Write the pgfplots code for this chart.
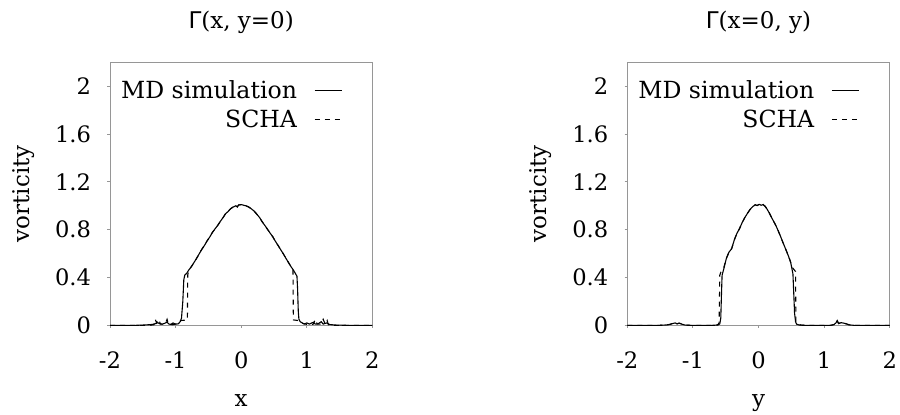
\documentclass[border=0pt]{standalone}
\usepackage{fontspec}
\setmainfont{DejaVu Serif}
\newfontfamily\gsans{DejaVu Sans}
\usepackage{pgfplots}
\pgfplotsset{compat=1.18}
\definecolor{boxgray}{RGB}{150,150,150}

\pgfplotstableread{
x v
-2.00 0
-1.60 0
-1.50 0.002
-1.40 0.005
-1.35 0.008
-1.30 0.015
-1.27 0.022
-1.24 0.012
-1.20 0.010
-1.17 0.016
-1.13 0.026
-1.10 0.010
-1.07 0.008
-1.04 0.020
-1.00 0.010
-0.96 0.012
-0.93 0.030
-0.91 0.060
-0.89 0.200
-0.875 0.380
-0.86 0.420
-0.83 0.435
-0.80 0.462
-0.76 0.490
-0.72 0.525
-0.68 0.560
-0.64 0.598
-0.60 0.636
-0.56 0.668
-0.52 0.706
-0.48 0.738
-0.44 0.776
-0.40 0.806
-0.36 0.834
-0.32 0.868
-0.28 0.898
-0.24 0.932
-0.20 0.952
-0.16 0.976
-0.12 0.990
-0.08 1.000
-0.06 0.990
-0.04 1.006
0.00 1.010
0.04 1.004
0.08 0.998
0.12 0.988
0.16 0.972
0.20 0.954
0.24 0.928
0.28 0.902
0.32 0.866
0.36 0.836
0.40 0.804
0.44 0.772
0.48 0.742
0.52 0.704
0.56 0.670
0.60 0.634
0.64 0.600
0.68 0.562
0.72 0.526
0.76 0.490
0.80 0.458
0.83 0.430
0.85 0.410
0.86 0.300
0.87 0.120
0.88 0.050
0.90 0.030
0.93 0.020
0.96 0.010
1.00 0.020
1.04 0.010
1.10 0.026
1.13 0.010
1.17 0.012
1.22 0.030
1.25 0.010
1.30 0.020
1.35 0.006
1.45 0.002
1.60 0
2.00 0
}\mdx

\pgfplotstableread{
x v
-2.00 0
-1.40 0
-1.33 0.005
-1.31 0.050
-1.29 0.020
-1.26 0.050
-1.23 0.010
-1.16 0.010
-1.13 0.050
-1.11 0.010
-1.05 0.005
-1.00 0.010
-0.96 0.020
-0.92 0.040
-0.82 0.045
-0.815 0.420
-0.80 0.462
-0.76 0.490
-0.72 0.525
-0.68 0.560
-0.64 0.598
-0.60 0.636
-0.56 0.668
-0.52 0.706
-0.48 0.738
-0.44 0.776
-0.40 0.806
-0.36 0.834
-0.32 0.868
-0.28 0.898
-0.24 0.932
-0.20 0.952
-0.16 0.976
-0.12 0.990
-0.08 1.000
-0.06 0.990
-0.04 1.006
0.00 1.010
0.04 1.004
0.08 0.998
0.12 0.988
0.16 0.972
0.20 0.954
0.24 0.928
0.28 0.902
0.32 0.866
0.36 0.836
0.40 0.804
0.44 0.772
0.48 0.742
0.52 0.704
0.56 0.670
0.60 0.634
0.64 0.600
0.68 0.562
0.72 0.526
0.76 0.490
0.79 0.462
0.795 0.045
0.87 0.040
0.92 0.020
0.98 0.010
1.04 0.005
1.10 0.010
1.13 0.050
1.16 0.010
1.22 0.010
1.25 0.050
1.28 0.010
1.31 0.040
1.33 0.005
1.40 0
2.00 0
}\schax

\pgfplotstableread{
x v
-2.00 0
-1.50 0
-1.40 0.003
-1.35 0.008
-1.30 0.016
-1.27 0.020
-1.24 0.012
-1.21 0.018
-1.17 0.010
-1.12 0.002
-1.05 0
-0.70 0
-0.62 0.002
-0.59 0.012
-0.575 0.060
-0.565 0.250
-0.555 0.420
-0.53 0.470
-0.49 0.560
-0.45 0.612
-0.41 0.640
-0.37 0.712
-0.33 0.768
-0.29 0.808
-0.25 0.858
-0.21 0.900
-0.17 0.935
-0.13 0.968
-0.09 0.992
-0.05 1.008
-0.02 1.002
0.01 1.012
0.04 1.004
0.07 1.010
0.10 0.996
0.13 0.972
0.16 0.944
0.19 0.912
0.22 0.880
0.25 0.850
0.28 0.816
0.31 0.778
0.34 0.738
0.37 0.696
0.40 0.656
0.43 0.616
0.46 0.574
0.49 0.528
0.51 0.472
0.525 0.430
0.535 0.300
0.55 0.100
0.565 0.030
0.58 0.010
0.62 0.002
0.70 0
1.10 0
1.15 0.006
1.18 0.020
1.20 0.040
1.22 0.015
1.26 0.022
1.30 0.018
1.34 0.012
1.38 0.004
1.45 0
2.00 0
}\mdy

\pgfplotstableread{
x v
-2.00 0
-1.50 0
-1.40 0.003
-1.35 0.008
-1.30 0.016
-1.27 0.020
-1.24 0.012
-1.21 0.018
-1.17 0.010
-1.12 0.002
-1.05 0
-0.70 0
-0.62 0.005
-0.60 0.020
-0.59 0.420
-0.57 0.450
-0.53 0.480
-0.49 0.560
-0.45 0.612
-0.41 0.640
-0.37 0.712
-0.33 0.768
-0.29 0.808
-0.25 0.858
-0.21 0.900
-0.17 0.935
-0.13 0.968
-0.09 0.992
-0.05 1.008
-0.02 1.002
0.01 1.012
0.04 1.004
0.07 1.010
0.10 0.996
0.13 0.972
0.16 0.944
0.19 0.912
0.22 0.880
0.25 0.850
0.28 0.816
0.31 0.778
0.34 0.738
0.37 0.696
0.40 0.656
0.43 0.616
0.46 0.574
0.49 0.528
0.52 0.480
0.55 0.460
0.565 0.450
0.57 0.030
0.60 0.010
0.65 0.002
0.70 0
1.10 0
1.15 0.006
1.18 0.020
1.20 0.040
1.22 0.015
1.26 0.022
1.30 0.018
1.34 0.012
1.38 0.004
1.45 0
2.00 0
}\schay

\pgfplotsset{
  common/.style={
    scale only axis, width=131.2pt, height=131.5pt,
    xmin=-2, xmax=2, ymin=0, ymax=2.2,
    xtick={-2,-1,0,1,2}, xticklabels={-2,-1,0,1,2},
    ytick={0,0.4,0.8,1.2,1.6,2}, yticklabels={0,0.4,0.8,1.2,1.6,2},
    tick align=outside, tick pos=left, major tick length=1.3pt,
    axis line style={draw=boxgray},
    every tick/.style={boxgray, line width=0.5pt},
    tick label style={font=\fontsize{11.3}{13}\selectfont},
    xticklabel style={anchor=base, yshift=-20.5pt},
    yticklabel style={anchor=east, inner sep=0pt, xshift=-8pt},
    label style={font=\fontsize{11.5}{14}\selectfont},
    title style={font=\fontsize{11.5}{14}\selectfont, at={(axis description cs:0.5,1)}, anchor=base, yshift=10.7pt},
    xlabel style={at={(axis description cs:0.5,0)}, anchor=base, yshift=-40.8pt},
    ylabel style={at={(axis description cs:-0.3087,0.5)}, anchor=base, rotate=0},
    ylabel={vorticity},
    legend plot pos=right, legend cell align=right,
    legend image code/.code={\draw[#1] (0pt,1.2pt) -- (13.5pt,1.2pt);},
    legend style={draw=none, fill=none, at={(axis description cs:0.8845,0.922)}, anchor=north east,
      inner sep=0pt, outer sep=0pt, row sep=4.5pt, column sep=8.5pt,
      font=\fontsize{11.8}{14}\selectfont,
      nodes={inner sep=0pt, text height=8pt, text depth=2pt}},
  },
  md/.style={black, line width=0.55pt},
  scha/.style={black, line width=0.55pt, dash pattern=on 2.5pt off 2.5pt},
}

\begin{document}
\begin{tikzpicture}
\path[use as bounding box] (0pt,0pt) rectangle (450pt,207pt);
\begin{axis}[common, at={(55pt,44.35pt)}, anchor=south west,
  title={{\gsans Γ}(x, y=0)}, xlabel={x}]
\addplot[md] table[x=x,y=v] {\mdx};
\addlegendentry{MD simulation}
\addplot[scha] table[x=x,y=v] {\schax};
\addlegendentry{SCHA}
\end{axis}
\begin{axis}[common, at={(313.65pt,44.35pt)}, anchor=south west,
  title={{\gsans Γ}(x=0, y)}, xlabel={y}]
\addplot[md] table[x=x,y=v] {\mdy};
\addlegendentry{MD simulation}
\addplot[scha] table[x=x,y=v] {\schay};
\addlegendentry{SCHA}
\end{axis}
\end{tikzpicture}
\end{document}
